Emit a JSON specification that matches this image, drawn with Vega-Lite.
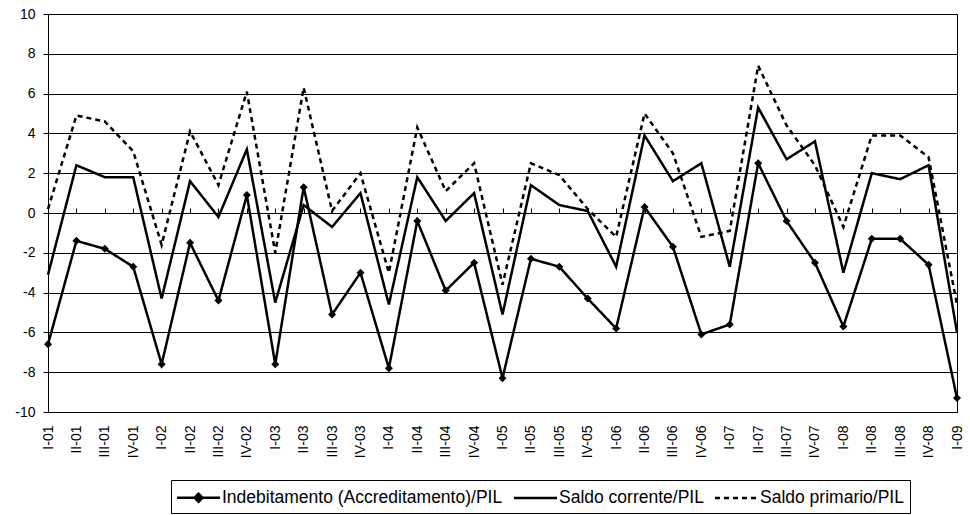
{
  "$schema": "https://vega.github.io/schema/vega-lite/v6.json",
  "width": 909,
  "height": 398,
  "autosize": {"type": "none"},
  "padding": {"left": 48, "top": 14, "right": 13, "bottom": 103},
  "background": "#ffffff",
  "config": {
    "view": {"stroke": "#000", "strokeWidth": 1},
    "font": "Liberation Sans"
  },
  "data": {
    "values": [
      {"q":"I-01","s":"Indebitamento (Accreditamento)/PIL","v":-6.6},{"q":"I-01","s":"Saldo corrente/PIL","v":-3.1},{"q":"I-01","s":"Saldo primario/PIL","v":0.2},
      {"q":"II-01","s":"Indebitamento (Accreditamento)/PIL","v":-1.4},{"q":"II-01","s":"Saldo corrente/PIL","v":2.4},{"q":"II-01","s":"Saldo primario/PIL","v":4.9},
      {"q":"III-01","s":"Indebitamento (Accreditamento)/PIL","v":-1.8},{"q":"III-01","s":"Saldo corrente/PIL","v":1.8},{"q":"III-01","s":"Saldo primario/PIL","v":4.6},
      {"q":"IV-01","s":"Indebitamento (Accreditamento)/PIL","v":-2.7},{"q":"IV-01","s":"Saldo corrente/PIL","v":1.8},{"q":"IV-01","s":"Saldo primario/PIL","v":3.1},
      {"q":"I-02","s":"Indebitamento (Accreditamento)/PIL","v":-7.6},{"q":"I-02","s":"Saldo corrente/PIL","v":-4.3},{"q":"I-02","s":"Saldo primario/PIL","v":-1.6},
      {"q":"II-02","s":"Indebitamento (Accreditamento)/PIL","v":-1.5},{"q":"II-02","s":"Saldo corrente/PIL","v":1.6},{"q":"II-02","s":"Saldo primario/PIL","v":4.1},
      {"q":"III-02","s":"Indebitamento (Accreditamento)/PIL","v":-4.4},{"q":"III-02","s":"Saldo corrente/PIL","v":-0.2},{"q":"III-02","s":"Saldo primario/PIL","v":1.4},
      {"q":"IV-02","s":"Indebitamento (Accreditamento)/PIL","v":0.9},{"q":"IV-02","s":"Saldo corrente/PIL","v":3.2},{"q":"IV-02","s":"Saldo primario/PIL","v":6.1},
      {"q":"I-03","s":"Indebitamento (Accreditamento)/PIL","v":-7.6},{"q":"I-03","s":"Saldo corrente/PIL","v":-4.5},{"q":"I-03","s":"Saldo primario/PIL","v":-2.0},
      {"q":"II-03","s":"Indebitamento (Accreditamento)/PIL","v":1.3},{"q":"II-03","s":"Saldo corrente/PIL","v":0.4},{"q":"II-03","s":"Saldo primario/PIL","v":6.3},
      {"q":"III-03","s":"Indebitamento (Accreditamento)/PIL","v":-5.1},{"q":"III-03","s":"Saldo corrente/PIL","v":-0.7},{"q":"III-03","s":"Saldo primario/PIL","v":0.1},
      {"q":"IV-03","s":"Indebitamento (Accreditamento)/PIL","v":-3.0},{"q":"IV-03","s":"Saldo corrente/PIL","v":1.0},{"q":"IV-03","s":"Saldo primario/PIL","v":2.0},
      {"q":"I-04","s":"Indebitamento (Accreditamento)/PIL","v":-7.8},{"q":"I-04","s":"Saldo corrente/PIL","v":-4.6},{"q":"I-04","s":"Saldo primario/PIL","v":-3.0},
      {"q":"II-04","s":"Indebitamento (Accreditamento)/PIL","v":-0.4},{"q":"II-04","s":"Saldo corrente/PIL","v":1.8},{"q":"II-04","s":"Saldo primario/PIL","v":4.3},
      {"q":"III-04","s":"Indebitamento (Accreditamento)/PIL","v":-3.9},{"q":"III-04","s":"Saldo corrente/PIL","v":-0.4},{"q":"III-04","s":"Saldo primario/PIL","v":1.1},
      {"q":"IV-04","s":"Indebitamento (Accreditamento)/PIL","v":-2.5},{"q":"IV-04","s":"Saldo corrente/PIL","v":1.0},{"q":"IV-04","s":"Saldo primario/PIL","v":2.5},
      {"q":"I-05","s":"Indebitamento (Accreditamento)/PIL","v":-8.3},{"q":"I-05","s":"Saldo corrente/PIL","v":-5.1},{"q":"I-05","s":"Saldo primario/PIL","v":-3.6},
      {"q":"II-05","s":"Indebitamento (Accreditamento)/PIL","v":-2.3},{"q":"II-05","s":"Saldo corrente/PIL","v":1.4},{"q":"II-05","s":"Saldo primario/PIL","v":2.5},
      {"q":"III-05","s":"Indebitamento (Accreditamento)/PIL","v":-2.7},{"q":"III-05","s":"Saldo corrente/PIL","v":0.4},{"q":"III-05","s":"Saldo primario/PIL","v":1.9},
      {"q":"IV-05","s":"Indebitamento (Accreditamento)/PIL","v":-4.3},{"q":"IV-05","s":"Saldo corrente/PIL","v":0.1},{"q":"IV-05","s":"Saldo primario/PIL","v":0.2},
      {"q":"I-06","s":"Indebitamento (Accreditamento)/PIL","v":-5.8},{"q":"I-06","s":"Saldo corrente/PIL","v":-2.7},{"q":"I-06","s":"Saldo primario/PIL","v":-1.2},
      {"q":"II-06","s":"Indebitamento (Accreditamento)/PIL","v":0.3},{"q":"II-06","s":"Saldo corrente/PIL","v":3.9},{"q":"II-06","s":"Saldo primario/PIL","v":5.0},
      {"q":"III-06","s":"Indebitamento (Accreditamento)/PIL","v":-1.7},{"q":"III-06","s":"Saldo corrente/PIL","v":1.6},{"q":"III-06","s":"Saldo primario/PIL","v":3.0},
      {"q":"IV-06","s":"Indebitamento (Accreditamento)/PIL","v":-6.1},{"q":"IV-06","s":"Saldo corrente/PIL","v":2.5},{"q":"IV-06","s":"Saldo primario/PIL","v":-1.2},
      {"q":"I-07","s":"Indebitamento (Accreditamento)/PIL","v":-5.6},{"q":"I-07","s":"Saldo corrente/PIL","v":-2.7},{"q":"I-07","s":"Saldo primario/PIL","v":-0.9},
      {"q":"II-07","s":"Indebitamento (Accreditamento)/PIL","v":2.5},{"q":"II-07","s":"Saldo corrente/PIL","v":5.3},{"q":"II-07","s":"Saldo primario/PIL","v":7.4},
      {"q":"III-07","s":"Indebitamento (Accreditamento)/PIL","v":-0.4},{"q":"III-07","s":"Saldo corrente/PIL","v":2.7},{"q":"III-07","s":"Saldo primario/PIL","v":4.4},
      {"q":"IV-07","s":"Indebitamento (Accreditamento)/PIL","v":-2.5},{"q":"IV-07","s":"Saldo corrente/PIL","v":3.6},{"q":"IV-07","s":"Saldo primario/PIL","v":2.4},
      {"q":"I-08","s":"Indebitamento (Accreditamento)/PIL","v":-5.7},{"q":"I-08","s":"Saldo corrente/PIL","v":-3.0},{"q":"I-08","s":"Saldo primario/PIL","v":-0.7},
      {"q":"II-08","s":"Indebitamento (Accreditamento)/PIL","v":-1.3},{"q":"II-08","s":"Saldo corrente/PIL","v":2.0},{"q":"II-08","s":"Saldo primario/PIL","v":3.9},
      {"q":"III-08","s":"Indebitamento (Accreditamento)/PIL","v":-1.3},{"q":"III-08","s":"Saldo corrente/PIL","v":1.7},{"q":"III-08","s":"Saldo primario/PIL","v":3.9},
      {"q":"IV-08","s":"Indebitamento (Accreditamento)/PIL","v":-2.6},{"q":"IV-08","s":"Saldo corrente/PIL","v":2.4},{"q":"IV-08","s":"Saldo primario/PIL","v":2.8},
      {"q":"I-09","s":"Indebitamento (Accreditamento)/PIL","v":-9.3},{"q":"I-09","s":"Saldo corrente/PIL","v":-6.0},{"q":"I-09","s":"Saldo primario/PIL","v":-4.6}
    ]
  },
  "resolve": {"axis": {"x": "independent", "y": "independent"}},
  "layer": [
    {
      "mark": {"type": "line", "color": "#000", "strokeWidth": 2.5},
      "encoding": {
        "x": {
          "field": "q", "type": "ordinal", "sort": null,
          "scale": {"type": "point", "padding": 0},
          "axis": {
            "title": null, "labelAngle": -90, "labelFontSize": 14, "labelColor": "#000",
            "labelFont": "Liberation Sans", "ticks": false, "tickSize": 0, "labelPadding": 13,
            "domainColor": "#000", "domainWidth": 1, "grid": false
          }
        },
        "y": {
          "field": "v", "type": "quantitative",
          "scale": {"domain": [-10, 10], "nice": false, "zero": false},
          "axis": {
            "title": null, "values": [-10, -8, -6, -4, -2, 0, 2, 4, 6, 8, 10],
            "labelOverlap": false, "tickCount": 11,
            "labelExpr": "datum.value < 0 ? '-' + abs(datum.value) : '' + datum.value",
            "labelFontSize": 14, "labelColor": "#000", "labelFont": "Liberation Sans",
            "tickSize": 5, "tickColor": "#000", "labelPadding": 8,
            "domainColor": "#000", "grid": true, "gridColor": "#000", "gridWidth": 1
          }
        },
        "strokeDash": {
          "field": "s", "type": "nominal",
          "scale": {
            "domain": ["Indebitamento (Accreditamento)/PIL", "Saldo corrente/PIL", "Saldo primario/PIL"],
            "range": [[1, 0], [1, 0], [5, 4]]
          },
          "legend": {
            "title": null, "orient": "none", "legendX": 123, "legendY": 466,
            "direction": "horizontal", "columns": 3, "strokeColor": "#000", "padding": 6,
            "columnPadding": 6, "symbolSize": 400, "symbolOffset": 10, "labelOffset": 12,
            "symbolStrokeWidth": 2.5, "symbolStrokeColor": "#000",
            "labelFontSize": 17.5, "labelFont": "Liberation Sans", "labelColor": "#000",
            "labelLimit": 0,
            "encode": {
              "symbols": {
                "update": {
                  "shape": {"signal": "datum.value == 'Indebitamento (Accreditamento)/PIL' ? 'M-2.15,0L2.15,0M0,-0.4L0.4,0L0,0.4L-0.4,0Z' : 'M-2.15,0L2.15,0'"},
                  "fill": {"value": "#000"},
                  "stroke": {"value": "#000"}
                }
              }
            }
          }
        }
      }
    },
    {
      "transform": [{"filter": "datum.s == 'Indebitamento (Accreditamento)/PIL'"}],
      "mark": {"type": "point", "shape": "diamond", "filled": true, "color": "#000", "size": 64, "opacity": 1},
      "encoding": {
        "x": {
          "field": "q", "type": "ordinal", "sort": null,
          "axis": {
            "title": null, "labels": false, "domain": false, "grid": false,
            "ticks": true, "tickSize": 5, "tickColor": "#000", "offset": -199
          }
        },
        "y": {"field": "v", "type": "quantitative", "axis": null}
      }
    }
  ]
}
